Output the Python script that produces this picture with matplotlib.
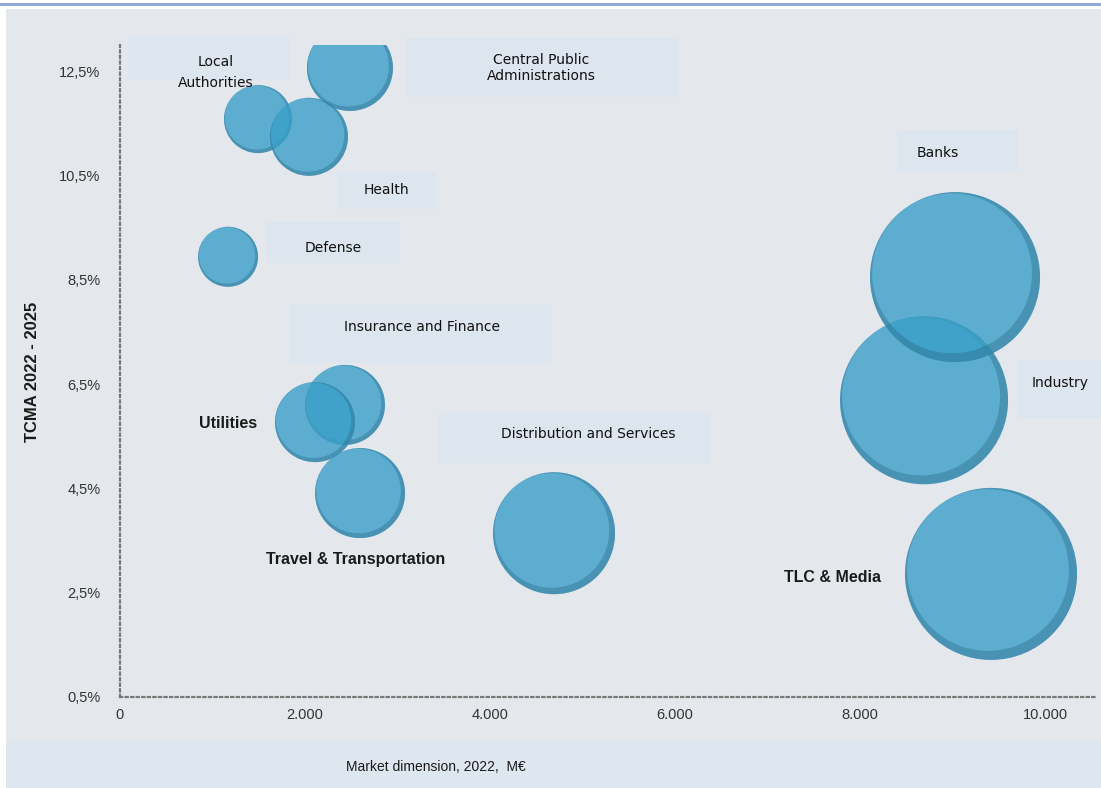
import numpy as np
import matplotlib
matplotlib.use("Agg")
import matplotlib.pyplot as plt
from matplotlib.patches import Rectangle
from matplotlib.path import Path

# sectors, market size 2022 (M€), growth TCMA 2022-2025 (%), bubble radius
sectors = ["Local Authorities", "Health", "Central Public Administrations", "Defense",
           "Industry", "Banks", "Insurance and Finance", "Utilities",
           "Travel & Transportation", "Distribution and Services", "TLC & Media"]
market = [1492, 2043, 2486, 1168, 8692, 9027, 2432, 2108, 2595, 4692, 9416]
growth = [11.58, 11.24, 12.56, 8.94, 6.19, 8.55, 6.10, 5.77, 4.41, 3.64, 2.86]
bubble = [34, 39, 43, 30, 84, 85, 40, 40, 45, 61, 86]

yticks = [0.5, 2.5, 4.5, 6.5, 8.5, 10.5, 12.5]
ytick_labels = ["0,5%", "2,5%", "4,5%", "6,5%", "8,5%", "10,5%", "12,5%"]
xticks = [0, 2000, 4000, 6000, 8000, 10000]
xtick_labels = ["0", "2.000", "4.000", "6.000", "8.000", "10.000"]

plain = ["Liberation Sans", "DejaVu Sans"]

fig = plt.figure(figsize=(11.01, 7.88), dpi=100)
fig.patch.set_facecolor("white")
W, H = 1101, 788

# background panels
fig.add_artist(Rectangle((6 / W, 46 / H), 1 - 6 / W, (H - 9 - 46) / H, transform=fig.transFigure,
                         facecolor="#e4e8ec", edgecolor="none", zorder=0))
fig.add_artist(Rectangle((6 / W, 0), 1 - 6 / W, 46 / H, transform=fig.transFigure,
                         facecolor="#dee6f0", edgecolor="none", zorder=0))
fig.add_artist(Rectangle((0, 1 - 6 / H), 1, 3 / H, transform=fig.transFigure,
                         facecolor="#8eaadc", edgecolor="none", zorder=0))

ax = fig.add_axes([120 / W, (H - 697) / H, (1095 - 120) / W, (697 - 45) / H])
ax.patch.set_alpha(0)
ax.set_xlim(0, 10540)
ax.set_ylim(0.5, 13)

# label boxes
boxes = [(86, 12.33, 1838, 13.17), (3081, 12.0, 6032, 13.13), (2357, 9.86, 3416, 10.57),
         (1589, 8.82, 3027, 9.61), (8400, 10.57, 9708, 11.37), (9697, 5.85, 10605, 6.96),
         (1838, 6.90, 4670, 8.02), (3427, 4.99, 6378, 5.94)]
for x0, y0, x1, y1 in boxes:
    ax.add_patch(Rectangle((x0, y0), x1 - x0, y1 - y0, facecolor="#dde5ef",
                           edgecolor="none", zorder=1, clip_on=False))

# crescent marker for the shaded rim at the bottom-right of each bubble
t = np.linspace(0, 2 * np.pi, 181)
ring = np.column_stack([np.cos(t), np.sin(t)])
hole = ring[::-1] * 0.94 + np.array([-0.035, 0.045])
codes = [Path.MOVETO] + [Path.LINETO] * 179 + [Path.CLOSEPOLY]
crescent = Path(np.concatenate([ring, hole]), codes * 2)

for x, y, r in zip(market, growth, bubble):
    d = 2 * r * 0.72
    ax.scatter([x], [y], s=d ** 2, color="#3a9fc8", edgecolors="none",
               alpha=0.8, zorder=2)
    ax.scatter([x], [y], s=d ** 2, marker=crescent, color="#2a6a8a", edgecolors="none",
               alpha=0.4, zorder=2)

# labels
boxed = [("Local\nAuthorities", 1038, 12.48, 1.65), ("Central Public\nAdministrations", 4551, 12.56, 1.15),
         ("Health", 2876, 10.22, 1.2), ("Defense", 2303, 9.11, 1.2), ("Banks", 8843, 10.93, 1.2),
         ("Insurance and Finance", 3265, 7.59, 1.2), ("Industry", 10162, 6.52, 1.2),
         ("Distribution and Services", 5059, 5.54, 1.2)]
for txt, x, y, ls in boxed:
    ax.text(x, y, txt, ha="center", va="center", fontsize=10, family="DejaVu Sans",
            color="#111111", linespacing=ls, zorder=3, clip_on=False)

bold = [("Utilities", 1168, 5.75), ("Travel & Transportation", 2551, 3.13),
        ("TLC & Media", 7697, 2.80)]
for txt, x, y in bold:
    ax.text(x, y, txt, ha="center", va="center", fontsize=11.5, family=plain,
            fontweight="bold", color="#1a1a1a", zorder=3)

ax.set_xticks(xticks)
ax.set_xticklabels(xtick_labels, family=plain, fontsize=10.5, color="#333333")
ax.set_yticks(yticks)
ax.set_yticklabels(ytick_labels, family=plain, fontsize=10.5, color="#333333")
ax.tick_params(length=0, pad=14)
ax.tick_params(axis="x", pad=8)

for side in ["top", "right"]:
    ax.spines[side].set_visible(False)
for side in ["left", "bottom"]:
    ax.spines[side].set_linestyle((0, (1, 1.5)))
    ax.spines[side].set_color("#777777")
    ax.spines[side].set_linewidth(1.6)

fig.text(33 / W, 1 - 372 / H, "TCMA 2022 - 2025", rotation=90, ha="center", va="center",
         family=plain, fontsize=12, fontweight="bold", color="#1a1a1a")
fig.text(436 / W, 1 - 767 / H, "Market dimension, 2022,  M€", ha="center", va="center",
         family=plain, fontsize=10, color="#1a1a1a")

fig.savefig("out.png", dpi=100)
